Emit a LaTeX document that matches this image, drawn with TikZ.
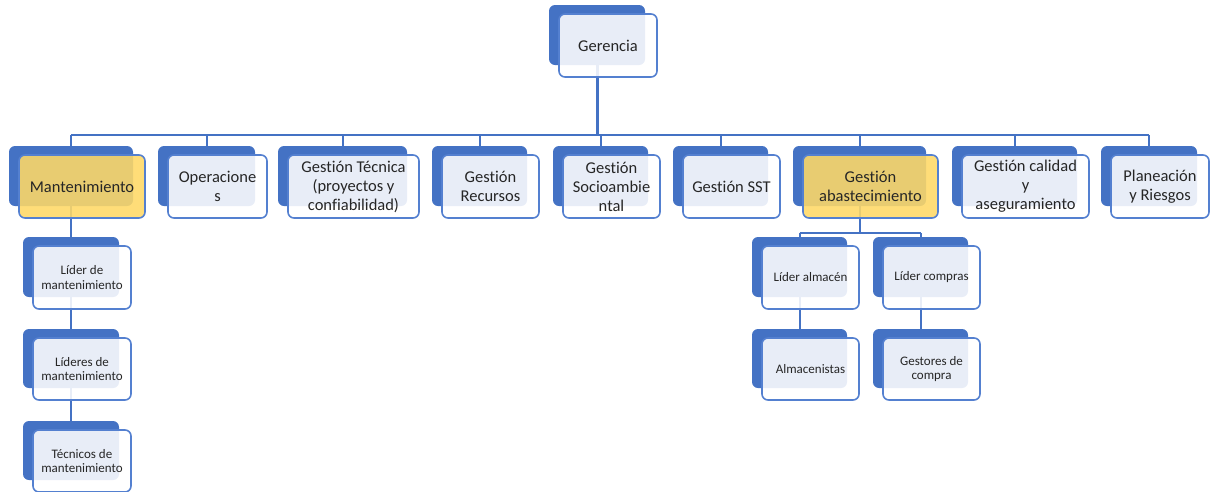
\documentclass[tikz,border=0pt]{standalone}
\usepackage{fontspec}
\setmainfont{Carlito}[Ligatures=NoCommon]
\usetikzlibrary{backgrounds}
\definecolor{acc}{RGB}{68,114,196}
\definecolor{edgeblue}{RGB}{84,128,208}
\definecolor{gold}{RGB}{255,217,102}
\definecolor{txt}{RGB}{38,38,38}
\tikzset{
  backbox/.style={draw=none, fill=acc, rounded corners=6pt, inner sep=0pt, outer sep=0pt},
  frontbox/.style={draw=edgeblue, line width=1.6pt, fill=white, fill opacity=0.88, text opacity=1,
    rounded corners=6pt, inner sep=0pt, outer sep=0pt, align=center, text=txt},
  hl/.style={fill=gold},
  big/.style={font=\fontsize{16.5}{19}\selectfont},
  small/.style={font=\fontsize{13}{14.5}\selectfont},
  conn/.style={draw=acc, line width=2pt},
}
\newcommand\obox[7]{%
  \node[backbox, minimum width={#4-#2}, minimum height={#5-#3}] (#1b) at ({(#2+#4)/2},{(#3+#5)/2}) {};
  \node[frontbox, #6, minimum width={#4-#2+2}, minimum height={#5-#3+3}] (#1) at ({(#2+#4)/2+11},{(#3+#5)/2+10.5}) {#7};
}
\begin{document}
\begin{tikzpicture}[x=1pt, y=-1pt]
\useasboundingbox (0,0) rectangle (1214,491);
\obox{ger}{549}{5}{645}{65}{big}{Gerencia}
\obox{mant}{9}{146}{133}{206}{big,hl}{Mantenimiento}
\obox{oper}{158}{146}{255}{206}{big}{Operacione\\s}
\obox{tec}{278}{146}{407}{206}{big}{Gestión Técnica\\(proyectos y\\confiabilidad)}
\obox{rec}{432}{146}{527}{206}{big}{Gestión\\Recursos}
\obox{soc}{553}{146}{648}{206}{big}{Gestión\\Socioambie\\ntal}
\obox{sst}{673}{146}{768}{206}{big}{Gestión SST}
\obox{aba}{793}{146}{926}{206}{big,hl}{Gestión\\abastecimiento}
\obox{cal}{952}{146}{1077}{206}{big}{Gestión calidad\\y\\aseguramiento}
\obox{pla}{1101}{146}{1197}{206}{big}{Planeación\\y Riesgos}
\obox{la}{23}{237}{119}{297}{small}{Líder de\\mantenimiento}
\obox{lb}{23}{329}{119}{388}{small}{Líderes de\\mantenimiento}
\obox{lc}{23}{421}{119}{480}{small}{Técnicos de\\mantenimiento}
\obox{alm}{752}{237}{847}{297}{small}{Líder almacén}
\obox{com}{873}{237}{968}{297}{small}{Líder compras}
\obox{almc}{752}{329}{847}{388}{small}{Almacenistas}
\obox{ges}{873}{329}{968}{388}{small}{Gestores de\\compra}
\coordinate (bus) at (0,135);
\coordinate (busb) at (0,233);
\begin{scope}[on background layer]
  \fill[white] (0,0) rectangle (1214,491);
  \draw[conn, line width=3pt] (gerb.south) -- (gerb.south |- bus);
  \draw[conn] (mantb.north |- bus) -- (plab.north |- bus);
  \foreach \n in {mant,oper,tec,rec,soc,sst,aba,cal,pla}
    \draw[conn] (\n b.north) -- (\n b.north |- bus);
  \draw[conn] (mantb.south) -- (lab.north);
  \draw[conn] (lab.south) -- (lbb.north);
  \draw[conn] (lbb.south) -- (lcb.north);
  \draw[conn] (abab.south) -- (abab.south |- busb);
  \draw[conn] (almb.north |- busb) -- (comb.north |- busb);
  \draw[conn] (almb.north) -- (almb.north |- busb);
  \draw[conn] (comb.north) -- (comb.north |- busb);
  \draw[conn] (almb.south) -- (almcb.north);
  \draw[conn] (comb.south) -- (gesb.north);
\end{scope}
\end{tikzpicture}
\end{document}
